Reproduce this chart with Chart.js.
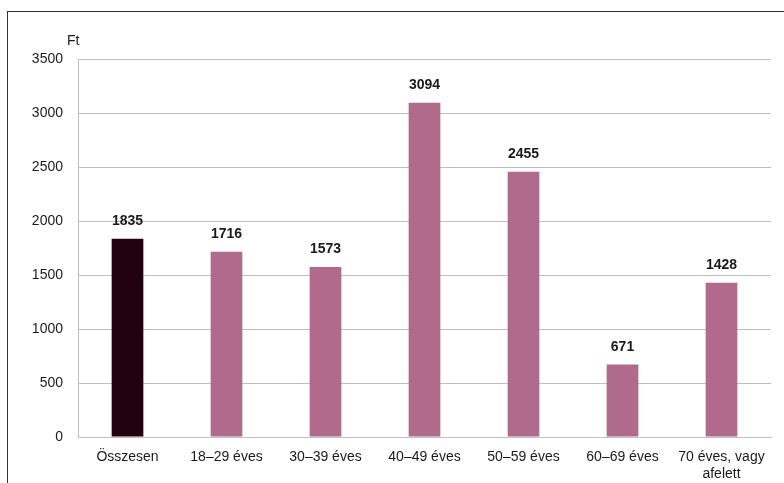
<!DOCTYPE html>
<html>
<head>
<meta charset="utf-8">
<script src="https://cdn.jsdelivr.net/npm/chart.js@4"></script>
<style>
    html, body { margin: 0; padding: 0; background: #fff; }
    .wrap { position: relative; width: 784px; height: 483px; }
    .frame {
        position: absolute; left: 7px; top: 11px; right: 0; bottom: 0;
        border-top: 1px solid #333; border-left: 1px solid #333;
    }
    canvas { position: absolute; left: 0; top: 0; }
</style>
</head>
<body>
<div class="wrap">
    <div class="frame"></div>
    <canvas id="chart" width="784" height="483"></canvas>
</div>
<script>
// Data
const categories = ['Összesen', '18–29 éves', '30–39 éves', '40–49 éves', '50–59 éves', '60–69 éves', ['70 éves, vagy', 'afelett']];
const values = [1835, 1716, 1573, 3094, 2455, 671, 1428];
const barColors = ['#210010', '#b06a8b', '#b06a8b', '#b06a8b', '#b06a8b', '#b06a8b', '#b06a8b'];
const unitLabel = 'Ft';

const font = '"Liberation Sans", Arial, sans-serif';

// Values above bars + unit label
const labelPlugin = {
    id: 'barLabels',
    afterDatasetsDraw(chart) {
        const ctx = chart.ctx;
        const meta = chart.getDatasetMeta(0);
        ctx.save();
        ctx.fillStyle = '#1a1a1a';
        ctx.font = 'bold 14px ' + font;
        ctx.textAlign = 'center';
        ctx.textBaseline = 'alphabetic';
        meta.data.forEach(function(bar, i) {
            ctx.fillText(values[i], bar.x, bar.y - 14);
        });
        ctx.font = '14px ' + font;
        ctx.textAlign = 'left';
        ctx.fillText(unitLabel, 67, chart.chartArea.top - 14);
        ctx.restore();
    }
};

new Chart(document.getElementById('chart').getContext('2d'), {
    type: 'bar',
    data: {
        labels: categories,
        datasets: [{
            data: values,
            backgroundColor: barColors,
            borderWidth: 0,
            categoryPercentage: 1,
            barPercentage: 0.32
        }]
    },
    options: {
        responsive: false,
        animation: false,
        devicePixelRatio: 1,
        layout: { padding: { top: 59, right: 13, left: 0, bottom: 0 } },
        plugins: { legend: { display: false }, tooltip: { enabled: false } },
        scales: {
            x: {
                grid: { display: false, drawTicks: false },
                border: { color: '#bfbfbf', width: 1 },
                ticks: {
                    color: '#1a1a1a',
                    font: { family: font, size: 14 },
                    padding: 12,
                    maxRotation: 0,
                    autoSkip: false
                },
                afterFit(scale) { scale.height = 46; }
            },
            y: {
                min: 0,
                max: 3500,
                grid: { color: '#bfbfbf', drawTicks: false },
                border: { color: '#bfbfbf', width: 1 },
                ticks: {
                    stepSize: 500,
                    color: '#1a1a1a',
                    font: { family: font, size: 14 },
                    padding: 15,
                    callback: function(v) { return String(v); }
                },
                afterFit(scale) { scale.width = 78; }
            }
        }
    },
    plugins: [labelPlugin]
});
</script>
</body>
</html>
